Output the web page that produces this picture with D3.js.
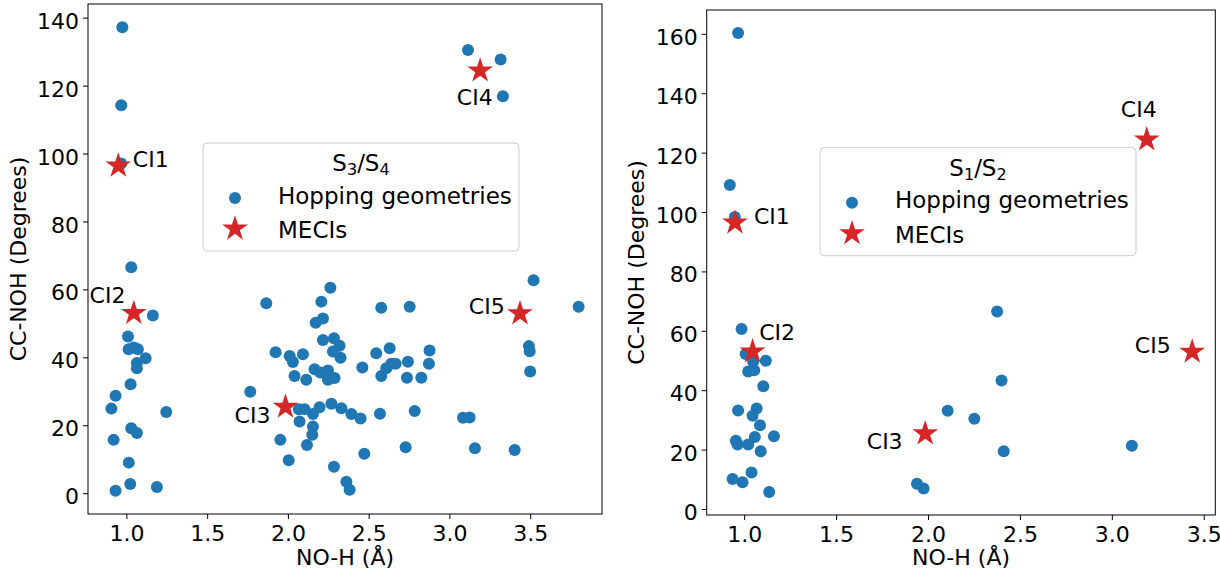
<!DOCTYPE html>
<html>
<head>
<meta charset="utf-8">
<script src="https://cdn.jsdelivr.net/npm/d3@7"></script>
<style>
body { margin: 0; background: #fff; }
svg text { font-family: "DejaVu Sans", sans-serif; fill: #000; }
</style>
</head>
<body>
<script>
var w = 1220;
var h = 571;
var fontSize = 22;
var legendFont = 23;
var blue = "#1f77b4";
var red = "#d62728";

// S3/S4 hopping geometries
var hopS34X = [0.975, 0.968, 0.968,
    1.03, 1.164, 1.01, 1.014, 1.046, 1.071, 1.119, 1.065, 1.065, 1.026, 0.933, 0.907, 1.247,
    1.03, 1.065, 0.921, 1.015, 1.024, 0.933, 1.189,
    1.866, 2.263, 2.207, 2.172, 2.217, 2.217, 2.285, 2.32, 2.279, 2.326, 1.924, 2.011, 2.031,
    2.093, 2.165, 2.2, 2.248, 2.248, 2.289, 2.041, 2.114, 2.461, 2.547, 2.63, 2.578, 2.609,
    2.64, 2.667, 2.743, 2.737, 2.826, 2.877, 2.873, 2.578, 2.754, 1.767, 2.068, 2.103, 2.155,
    2.196, 2.269, 2.331, 2.393, 2.45, 2.57, 2.785, 2.072, 2.155, 2.151, 2.118, 1.953, 2.005,
    2.285, 2.362, 2.382, 2.473, 2.729,
    3.115, 3.317, 3.331, 3.521, 3.8, 3.492, 3.497, 3.5, 3.084, 3.125, 3.158, 3.404];
var hopS34Y = [137.2, 114.2, 97.1,
    66.5, 52.3, 46.1, 42.4, 42.9, 42.4, 39.7, 38.3, 36.8, 32.1, 28.7, 24.9, 23.9,
    19.1, 17.7, 15.7, 9.0, 2.7, 0.7, 1.8,
    55.9, 60.5, 56.4, 50.2, 51.4, 45.1, 45.6, 43.4, 41.7, 39.9, 41.5, 40.4, 38.6,
    40.9, 36.5, 35.5, 36.1, 33.4, 33.9, 34.5, 33.4, 37.0, 41.2, 42.7, 34.5, 36.8,
    38.1, 38.1, 38.7, 34.0, 34.0, 42.0, 38.1, 54.6, 54.9, 29.9, 24.7, 24.7, 23.3,
    25.3, 26.3, 25.0, 23.3, 22.0, 23.4, 24.2, 21.1, 19.6, 17.2, 14.2, 15.7, 9.7,
    7.8, 3.4, 1.0, 11.6, 13.5,
    130.5, 127.7, 116.9, 62.7, 54.9, 43.3, 41.8, 35.8, 22.2, 22.3, 13.2, 12.7];

// S1/S2 hopping geometries
var hopS12X = [0.967, 0.922, 0.949, 0.986, 1.008, 1.118, 1.049, 1.022, 1.055, 1.104, 0.967,
    1.068, 1.046, 1.086, 1.058, 1.162, 0.955, 0.964, 1.022, 1.09, 1.04, 0.937, 0.991, 1.136,
    2.107, 1.94, 1.976, 2.376, 2.4, 2.252, 2.412, 3.109];
var hopS12Y = [160.3, 109.1, 98.3, 60.6, 52.2, 49.9, 49.7, 46.3, 46.7, 41.3, 33.2,
    33.8, 31.4, 28.2, 24.2, 24.5, 23.0, 21.7, 21.7, 19.4, 12.3, 10.1, 9.0, 5.7,
    33.1, 8.5, 6.9, 66.5, 43.3, 30.4, 19.4, 21.3];

// MECIs
var meciNames = ["CI1", "CI2", "CI3", "CI4", "CI5"];
var meciX = [0.95, 1.046, 1.985, 3.19, 3.437];
var meciY = [96.4, 53.0, 25.4, 124.4, 52.9];

// annotation text positions (data units)
var labelS34X = [1.04, 0.772, 1.67, 3.046, 3.12];
var labelS34Y = [96.1, 56.1, 20.6, 114.4, 52.9];
var labelS12X = [1.053, 1.082, 1.667, 3.049, 3.125];
var labelS12Y = [96.1, 56.8, 20.2, 132.0, 52.6];

var xTicks = [1.0, 1.5, 2.0, 2.5, 3.0, 3.5];
var yTicksS34 = [0, 20, 40, 60, 80, 100, 120, 140];
var yTicksS12 = [0, 20, 40, 60, 80, 100, 120, 140, 160];

var legendLabels = ["Hopping geometries", "MECIs"];

var svg = d3.select("body")
    .append("svg")
    .attr("width", w)
    .attr("height", h);

function padded(vals) {
    var lo = d3.min(vals), hi = d3.max(vals);
    var m = (hi - lo) * 0.05;
    return [lo - m, hi + m];
}

function drawPanel(p) {
    var allX = p.hopX.concat(meciX);
    var allY = p.hopY.concat(meciY);

    var xScale = d3.scaleLinear()
        .domain(padded(allX))
        .range([p.left, p.right]);
    var yScale = d3.scaleLinear()
        .domain(padded(allY))
        .range([p.bottom, p.top]);

    var g = svg.append("g");

    var xAxis = d3.axisBottom(xScale)
        .tickValues(xTicks)
        .tickFormat(d3.format(".1f"))
        .tickSize(5)
        .tickPadding(6);
    var yAxis = d3.axisLeft(yScale)
        .tickValues(p.yTicks)
        .tickFormat(d3.format("d"))
        .tickSize(5)
        .tickPadding(4);

    var gx = g.append("g")
        .attr("transform", "translate(0," + p.bottom + ")")
        .call(xAxis);
    var gy = g.append("g")
        .attr("transform", "translate(" + p.left + ",0)")
        .call(yAxis);

    [gx, gy].forEach(function (ax) {
        ax.attr("font-family", null).attr("font-size", fontSize);
        ax.select(".domain").remove();
        ax.selectAll("line").attr("stroke", "#000").attr("stroke-width", 1);
    });
    gy.selectAll("text").attr("dy", "0.48em");

    // hopping points
    g.selectAll("circle.hop")
        .data(d3.range(p.hopX.length))
        .enter()
        .append("circle")
        .attr("class", "hop")
        .attr("cx", function (i) { return xScale(p.hopX[i]); })
        .attr("cy", function (i) { return yScale(p.hopY[i]); })
        .attr("r", 6)
        .attr("fill", blue);

    // MECIs
    var star = d3.symbol().type(d3.symbolStar).size(205);
    g.selectAll("path.meci")
        .data(d3.range(meciX.length))
        .enter()
        .append("path")
        .attr("class", "meci")
        .attr("d", star)
        .attr("transform", function (i) {
            return "translate(" + xScale(meciX[i]) + "," + yScale(meciY[i]) + ")";
        })
        .attr("fill", red);

    g.selectAll("text.lab")
        .data(d3.range(meciNames.length))
        .enter()
        .append("text")
        .attr("class", "lab")
        .attr("x", function (i) { return xScale(p.labelX[i]); })
        .attr("y", function (i) { return yScale(p.labelY[i]); })
        .attr("font-size", fontSize)
        .text(function (i) { return meciNames[i]; });

    // frame
    g.append("rect")
        .attr("x", p.left)
        .attr("y", p.top)
        .attr("width", p.right - p.left)
        .attr("height", p.bottom - p.top)
        .attr("fill", "none")
        .attr("stroke", "#000")
        .attr("stroke-width", 1);

    // axis labels
    g.append("text")
        .attr("x", (p.left + p.right) / 2)
        .attr("y", 565)
        .attr("text-anchor", "middle")
        .attr("font-size", fontSize)
        .text("NO-H (\u00c5)");
    g.append("text")
        .attr("transform", "translate(" + (p.left - 62.3) + "," + ((p.top + p.bottom) / 2) + ") rotate(-90)")
        .attr("text-anchor", "middle")
        .attr("font-size", fontSize)
        .text("CC-NOH (Degrees)");

    // legend
    var lg = g.append("g")
        .attr("transform", "translate(" + p.legX + "," + p.legY + ")");
    lg.append("rect")
        .attr("width", 316)
        .attr("height", 108)
        .attr("rx", 4)
        .attr("fill", "#fff")
        .attr("fill-opacity", 0.8)
        .attr("stroke", "#cccccc")
        .attr("stroke-width", 1);
    var title = lg.append("text")
        .attr("x", 158)
        .attr("y", 28.3)
        .attr("text-anchor", "middle")
        .attr("font-size", legendFont);
    title.append("tspan").text("S");
    title.append("tspan").attr("font-size", 16).attr("dy", 4).text(p.sub[0]);
    title.append("tspan").attr("dy", -4).text("/S");
    title.append("tspan").attr("font-size", 16).attr("dy", 4).text(p.sub[1]);

    lg.append("circle")
        .attr("cx", 32)
        .attr("cy", 55)
        .attr("r", 6)
        .attr("fill", blue);
    lg.append("path")
        .attr("d", star)
        .attr("transform", "translate(32,85.7)")
        .attr("fill", red);
    lg.selectAll("text.entry")
        .data(legendLabels)
        .enter()
        .append("text")
        .attr("class", "entry")
        .attr("x", 75)
        .attr("y", function (d, i) { return i === 0 ? 60.7 : 95; })
        .attr("font-size", legendFont)
        .text(function (d) { return d; });
}

drawPanel({
    left: 88, right: 602, top: 4, bottom: 514,
    hopX: hopS34X, hopY: hopS34Y,
    labelX: labelS34X, labelY: labelS34Y,
    yTicks: yTicksS34,
    sub: ["3", "4"],
    legX: 203, legY: 143
});

drawPanel({
    left: 706.7, right: 1215.3, top: 10, bottom: 515,
    hopX: hopS12X, hopY: hopS12Y,
    labelX: labelS12X, labelY: labelS12Y,
    yTicks: yTicksS12,
    sub: ["1", "2"],
    legX: 820, legY: 147.7
});
</script>
</body>
</html>
